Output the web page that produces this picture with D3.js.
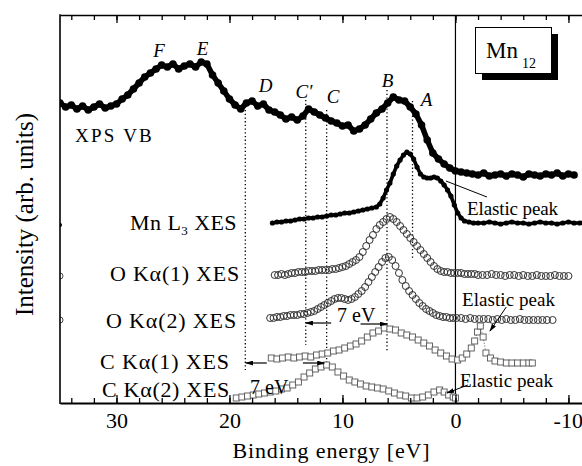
<!DOCTYPE html>
<html><head><meta charset="utf-8">
<script src="https://cdn.jsdelivr.net/npm/d3@7"></script>
<style>
body{margin:0;background:#fff}
svg{display:block}
</style>
</head><body>
<svg id="chart" width="582" height="466" font-family="'Liberation Serif','DejaVu Serif','Times New Roman',Times,serif"></svg>
<script>
// ---------- DATA (binding energy eV, intensity arb. units) ----------
const xpsVB = [[35.0,300],[34.5,296],[34.0,298],[33.5,294],[33.0,297],[32.5,293],[32.0,296],[31.5,299],[31.0,295],[30.5,297],[30.0,299],[29.5,304],[29.0,308],[28.5,314],[28.0,320],[27.5,326],[27.0,330],[26.5,334],[26.0,338],[25.5,336],[25.0,339],[24.5,334],[24.0,337],[23.5,339],[23.0,336],[22.5,341],[22.0,339],[21.5,328],[21.0,320],[20.5,312],[20.0,304],[19.5,298],[19.0,294],[18.5,300],[18.0,302],[17.5,297],[17.0,299],[16.5,293],[16.0,291],[15.5,288],[15.0,284],[14.5,286],[14.0,283],[13.5,287],[13.0,294],[12.5,291],[12.0,288],[11.5,285],[11.0,282],[10.5,280],[10.0,277],[9.5,278],[9.0,272],[8.5,274],[8.0,278],[7.5,284],[7.0,290],[6.5,294],[6.0,300],[5.5,306],[5.0,303],[4.5,302],[4.0,296],[3.5,289],[3.0,278],[2.5,263],[2.0,250],[1.5,244],[1.0,239],[0.5,235],[0.0,232],[-0.5,231],[-1.0,230],[-1.5,229],[-2.0,228],[-2.5,230],[-3.0,227],[-3.5,228],[-4.0,229],[-4.5,227],[-5.0,229],[-5.5,228],[-6.0,226],[-6.5,229],[-7.0,228],[-7.5,227],[-8.0,229],[-8.5,228],[-9.0,230],[-9.5,227],[-10.0,229],[-10.5,228]];

const mnL3 = [[16.2,180],[15.8,181],[15.4,181],[15.0,182],[14.6,182],[14.2,183],[13.8,184],[13.4,184],[13.0,185],[12.6,185],[12.2,186],[11.8,186],[11.4,187],[11.0,188],[10.6,188],[10.2,189],[9.8,190],[9.4,190],[9.0,191],[8.6,192],[8.2,193],[7.8,194],[7.4,195],[7.0,196],[6.7,199],[6.4,205],[6.1,213],[5.8,220],[5.5,229],[5.2,237],[4.9,243],[4.6,248],[4.3,251],[4.0,249],[3.7,244],[3.4,236],[3.1,229],[2.8,226],[2.5,225],[2.2,225],[1.9,226],[1.6,225],[1.3,222],[1.0,218],[0.7,213],[0.4,207],[0.1,198],[-0.2,190],[-0.5,185],[-0.8,182],[-1.2,181],[-1.6,180],[-2.0,180],[-2.5,180],[-3.0,181],[-3.5,180],[-4.0,179],[-4.5,180],[-5.0,181],[-5.5,180],[-6.0,180],[-6.5,179],[-7.0,180],[-7.5,181],[-8.0,180],[-8.5,180],[-9.0,179],[-9.5,180],[-10.0,181],[-10.5,180],[-11.0,180],[-11.3,180]];

const oKa1 = [[16.0,128],[15.7,128],[15.4,129],[15.1,128],[14.8,129],[14.5,130],[14.2,130],[13.9,131],[13.6,131],[13.3,131],[13.0,132],[12.7,132],[12.4,132],[12.1,133],[11.8,133],[11.5,133],[11.2,133],[10.9,134],[10.6,134],[10.3,135],[10.0,136],[9.7,137],[9.4,139],[9.1,141],[8.8,143],[8.5,146],[8.2,151],[7.9,157],[7.6,163],[7.3,168],[7.0,174],[6.7,178],[6.4,181],[6.1,184],[5.8,186],[5.5,184],[5.2,181],[4.9,177],[4.6,173],[4.3,169],[4.0,165],[3.7,161],[3.4,157],[3.1,153],[2.8,149],[2.5,145],[2.2,141],[1.9,137],[1.6,134],[1.3,132],[1.0,131],[0.7,131],[0.4,130],[0.1,130],[-0.2,130],[-0.5,130],[-0.8,129],[-1.1,129],[-1.4,129],[-1.7,129],[-2.0,128],[-2.4,128],[-2.8,128],[-3.2,129],[-3.6,128],[-4.0,128],[-4.4,127],[-4.8,128],[-5.2,128],[-5.6,127],[-6.0,128],[-6.4,127],[-6.8,127],[-7.2,128],[-7.6,127],[-8.0,127],[-8.4,127],[-8.8,128],[-9.2,127],[-9.6,127],[-10.0,127]];

const oKa2 = [[16.4,85],[16.1,85],[15.8,86],[15.5,86],[15.2,87],[14.9,87],[14.6,88],[14.3,88],[14.0,88],[13.7,89],[13.4,89],[13.1,90],[12.8,91],[12.5,92],[12.2,94],[11.9,96],[11.6,98],[11.3,100],[11.0,102],[10.7,104],[10.4,105],[10.1,105],[9.8,104],[9.5,103],[9.2,104],[8.9,106],[8.6,109],[8.3,112],[8.0,116],[7.7,121],[7.4,126],[7.1,131],[6.8,136],[6.5,141],[6.2,145],[5.9,146],[5.6,143],[5.3,137],[5.0,130],[4.7,123],[4.4,117],[4.1,112],[3.8,108],[3.5,104],[3.2,100],[2.9,97],[2.6,94],[2.3,92],[2.0,90],[1.7,88],[1.4,87],[1.1,86],[0.8,86],[0.5,85],[0.2,85],[-0.1,85],[-0.5,85],[-0.9,84],[-1.3,85],[-1.7,84],[-2.1,84],[-2.5,84],[-2.9,84],[-3.3,83],[-3.7,84],[-4.1,83],[-4.5,84],[-4.9,83],[-5.3,83],[-5.7,84],[-6.1,83],[-6.5,83],[-6.9,83],[-7.3,83],[-7.7,83],[-8.1,83],[-8.6,83]];

const cKa1 = [[16.3,45],[15.8,44],[15.3,45],[14.8,46],[14.3,45],[13.8,46],[13.3,47],[12.8,46],[12.3,48],[11.8,49],[11.3,50],[10.8,52],[10.3,53],[9.8,55],[9.3,57],[8.8,59],[8.3,62],[7.8,66],[7.3,70],[6.8,72],[6.3,75],[5.8,74],[5.3,73],[4.8,70],[4.3,68],[3.8,66],[3.3,63],[2.8,60],[2.3,57],[1.8,53],[1.3,50],[0.8,47],[0.3,44],[-0.2,43],[-0.6,45],[-1.0,49],[-1.4,55],[-1.7,62],[-1.95,71],[-2.2,77],[-2.45,66],[-2.7,50],[-3.1,45],[-3.5,42],[-4.0,41],[-4.5,40],[-5.0,40],[-5.5,40],[-6.0,40],[-6.5,40],[-6.8,40]];

const cKa2 = [[19.4,5],[18.9,6],[18.4,7],[17.9,8],[17.4,9],[16.9,10],[16.4,11],[15.9,12],[15.4,14],[14.9,15],[14.4,18],[13.9,21],[13.4,26],[12.9,30],[12.4,34],[11.9,36],[11.4,38],[10.9,36],[10.4,31],[9.9,27],[9.4,23],[8.9,21],[8.4,19],[7.9,17],[7.4,16],[6.9,15],[6.4,14],[5.9,12],[5.4,10],[4.9,8],[4.4,7],[3.9,5],[3.4,5],[2.9,6],[2.4,8],[1.9,11],[1.4,13],[1.0,11],[0.6,8],[0.2,6],[0.0,5]];

// isolated points sitting on the left frame
const edgeDots = [[35.0,178]];
const edgeCircles = [[35.0,127],[35.0,83]];

// feature markers: label, energy, intensity range of the dotted guide
const featureNames = ["D","C'","C","B","A"];
const featureE = [18.6,13.25,11.4,6.06,3.8];
const featureTop = [293,303,293,313,302];
const featureBottom = [33,58,40,51,143];
const peakLabels = ["F","E"];

const tickMinor = [34,32,30,28,26,24,22,20,18,16,14,12,10,8,6,4,2,0,-2,-4,-6,-8,-10];
const tickMajor = [30,20,10,0,-10];

const seriesLabels = ["XPS VB","Mn L3 XES","O Kα(1) XES","O Kα(2) XES","C Kα(1) XES","C Kα(2) XES"];

// ---------- CHART ----------
const FONT = "'Liberation Serif','DejaVu Serif','Times New Roman',Times,serif";
const svg = d3.select("#chart");
const X0=60, X1=582, Y0=15, Y1=403;
const x = d3.scaleLinear().domain([35,-11.2]).range([X0,X1]);
const y = d3.scaleLinear().domain([0,388]).range([Y1,Y0]);

const defs = svg.append("defs");
defs.append("clipPath").attr("id","clip").append("rect")
  .attr("x",X0).attr("y",Y0).attr("width",X1-X0).attr("height",Y1-Y0);
defs.append("marker").attr("id","arr").attr("viewBox","0 0 10 6")
  .attr("refX",9).attr("refY",3).attr("markerWidth",8).attr("markerHeight",5)
  .attr("markerUnits","userSpaceOnUse").attr("orient","auto-start-reverse")
  .append("path").attr("d","M0,0 L10,3 L0,6 z").attr("fill","#000");

function txt(xp, yp, size, s){
  return svg.append("text").attr("x",xp).attr("y",yp).attr("font-size",size)
    .attr("font-family",FONT).attr("fill","#000").text(s);
}
function fitWidth(sel, target){
  const node = sel.node();
  const w = node.getComputedTextLength();
  const n = node.textContent.length;
  sel.attr("letter-spacing", ((target - w)/n).toFixed(2));
}

const plot = svg.append("g").attr("clip-path","url(#clip)");

// zero line
plot.append("line").attr("x1",x(0)).attr("x2",x(0)).attr("y1",Y0).attr("y2",Y1)
  .attr("stroke","#000").attr("stroke-width",1.2);

// dotted guides
featureE.forEach((e,i)=>{
  plot.append("line").attr("x1",x(e)).attr("x2",x(e))
    .attr("y1",y(featureTop[i])).attr("y2",y(featureBottom[i]))
    .attr("stroke","#000").attr("stroke-width",1.3).attr("stroke-dasharray","1.3,2.4");
});

const line = d3.line().x(d=>x(d[0])).y(d=>y(d[1]));

// XPS VB
plot.append("path").datum(xpsVB).attr("d",line).attr("fill","none")
  .attr("stroke","#000").attr("stroke-width",5.5).attr("stroke-linejoin","round");
plot.selectAll(".xps").data(xpsVB).enter().append("circle")
  .attr("cx",d=>x(d[0])).attr("cy",d=>y(d[1])).attr("r",3.8).attr("fill","#000");

// Mn L3
plot.append("path").datum(mnL3).attr("d",line).attr("fill","none")
  .attr("stroke","#000").attr("stroke-width",3.6).attr("stroke-linejoin","round");
plot.selectAll(".mn").data(mnL3).enter().append("circle")
  .attr("cx",d=>x(d[0])).attr("cy",d=>y(d[1])).attr("r",2.6).attr("fill","#000");
plot.selectAll(".ed").data(edgeDots).enter().append("circle")
  .attr("cx",d=>x(d[0])).attr("cy",d=>y(d[1])).attr("r",2).attr("fill","#000");

// O K alpha (open circles)
[oKa1,oKa2].forEach(s=>{
  plot.selectAll(null).data(s).enter().append("circle")
    .attr("cx",d=>x(d[0])).attr("cy",d=>y(d[1])).attr("r",3.5)
    .attr("fill","none").attr("stroke","#333").attr("stroke-width",1);
});
plot.selectAll(".ec").data(edgeCircles).enter().append("circle")
  .attr("cx",d=>x(d[0])).attr("cy",d=>y(d[1])).attr("r",3)
  .attr("fill","none").attr("stroke","#333").attr("stroke-width",0.9);

// C K alpha (open squares with dotted connection)
[cKa1,cKa2].forEach(s=>{
  plot.append("path").datum(s).attr("d",line).attr("fill","none")
    .attr("stroke","#777").attr("stroke-width",1).attr("stroke-dasharray","1.2,1.6");
  plot.selectAll(null).data(s).enter().append("rect")
    .attr("x",d=>x(d[0])-3).attr("y",d=>y(d[1])-3).attr("width",6).attr("height",6)
    .attr("fill","#fff").attr("stroke","#555").attr("stroke-width",0.9);
});

// ---------- axes ----------
const axB = svg.append("g").attr("transform",`translate(0,${Y1})`)
  .call(d3.axisBottom(x).tickValues(tickMinor).tickSize(-5).tickSizeOuter(0).tickFormat(""));
const axBM = svg.append("g").attr("transform",`translate(0,${Y1})`)
  .call(d3.axisBottom(x).tickValues(tickMajor).tickSize(-8).tickSizeOuter(0).tickPadding(10));
axBM.attr("font-family",FONT).attr("font-size",22);
axBM.select(".domain").remove();
axB.select(".domain").attr("stroke-width",2.2);
axBM.selectAll("text").attr("font-size",22).attr("font-family",FONT)
  .attr("dy",null).attr("y",25).text(d=>String(d))
  .attr("text-anchor",d=>d===-10?"end":"middle")
  .attr("x",d=>d===-10?14:0);

const axT = svg.append("g").attr("transform",`translate(0,${Y0})`)
  .call(d3.axisTop(x).tickValues(tickMinor).tickSize(-5).tickSizeOuter(0).tickFormat(""));
const axTM = svg.append("g").attr("transform",`translate(0,${Y0})`)
  .call(d3.axisTop(x).tickValues(tickMajor).tickSize(-8).tickSizeOuter(0).tickFormat(""));
axTM.select(".domain").remove();
axT.select(".domain").attr("stroke-width",1.5);
svg.selectAll(".tick line").attr("stroke-width",1.3);

svg.append("line").attr("x1",X0).attr("x2",X0).attr("y1",Y0-0.7).attr("y2",Y1+1)
  .attr("stroke","#000").attr("stroke-width",1.6);

// axis titles
const xt = txt(331.5,458,22,"Binding energy [eV]").attr("text-anchor","middle");
fitWidth(xt,198);
const yt = svg.append("text").attr("transform","translate(32.5,214.5) rotate(-90)")
  .attr("text-anchor","middle").attr("font-size",25).attr("font-family",FONT).text("Intensity (arb. units)");
fitWidth(yt,203);

// ---------- labels ----------
const l0 = txt(75,142,19,seriesLabels[0]);
fitWidth(l0,79);

function subLabel(xp, yp, main, sub, rest, size, target){
  const t = svg.append("text").attr("x",xp).attr("y",yp).attr("font-size",size).attr("font-family",FONT);
  t.append("tspan").text(main);
  t.append("tspan").attr("font-size",13).attr("dy",5).text(sub);
  t.append("tspan").attr("dy",-5).text(rest);
  fitWidth(t,target);
  return t;
}
subLabel(130,230,"Mn L","3"," XES",22,107);

const lblPos = [[110,281,130],[106,328,131],[100,369,130],[102,397,128]];
lblPos.forEach((p,i)=>{
  const t = txt(p[0],p[1],22,seriesLabels[i+2]);
  fitWidth(t,p[2]);
});

// feature letters (italic)
const letterPos = {"F":[159,57],"E":[202.5,55],"D":[265.5,92],"C'":[304,98],"C":[333,103],"B":[387.5,87],"A":[426.5,106]};
peakLabels.concat(featureNames).forEach(n=>{
  txt(letterPos[n][0],letterPos[n][1],19,n==="C'"?"C\u2032":n)
    .attr("text-anchor","middle").attr("font-style","italic");
});

// 7 eV arrows
const ann = svg.append("g");
ann.append("line").attr("x1",x(11.0)).attr("x2",x(13.25)).attr("y1",y(80)).attr("y2",y(80))
  .attr("stroke","#000").attr("stroke-width",1.2).attr("marker-end","url(#arr)");
ann.append("line").attr("x1",x(8.4)).attr("x2",x(6.06)).attr("y1",y(79)).attr("y2",y(79))
  .attr("stroke","#000").attr("stroke-width",1.2).attr("marker-end","url(#arr)");
txt(337,322,20,"7 eV");
ann.append("line").attr("x1",x(16.7)).attr("x2",x(18.55)).attr("y1",y(40)).attr("y2",y(40))
  .attr("stroke","#000").attr("stroke-width",1.2).attr("marker-end","url(#arr)");
ann.append("line").attr("x1",x(13.5)).attr("x2",x(11.6)).attr("y1",y(40)).attr("y2",y(40))
  .attr("stroke","#000").attr("stroke-width",1.2).attr("marker-end","url(#arr)");
txt(250,394,20,"7 eV");

// elastic peak labels
const e1 = txt(467,215,19,"Elastic peak"); fitWidth(e1,91);
ann.append("line").attr("x1",x(-2.79)).attr("y1",y(206)).attr("x2",x(0.84)).attr("y2",y(222))
  .attr("stroke","#000").attr("stroke-width",1);
const e2 = txt(462,306,19,"Elastic peak"); fitWidth(e2,93);
ann.append("line").attr("x1",x(-4.5)).attr("y1",y(96)).attr("x2",x(-3.05)).attr("y2",y(72))
  .attr("stroke","#000").attr("stroke-width",1).attr("marker-end","url(#arr)");
const e3 = txt(460,387,19,"Elastic peak"); fitWidth(e3,93);
ann.append("line").attr("x1",x(-1.1)).attr("y1",y(18)).attr("x2",x(0.75)).attr("y2",y(10))
  .attr("stroke","#000").attr("stroke-width",1).attr("marker-end","url(#arr)");

// Mn12 box with shadow
svg.append("rect").attr("x",482).attr("y",34).attr("width",76).attr("height",46).attr("fill","#000");
svg.append("rect").attr("x",475.5).attr("y",27.5).attr("width",76).attr("height",46)
  .attr("fill","#fff").attr("stroke","#000").attr("stroke-width",1);
const mt = txt(486,58,23,"");
mt.append("tspan").text("Mn");
mt.append("tspan").attr("font-size",14).attr("dx",4).attr("dy",10).text("12");
</script>
</body></html>
